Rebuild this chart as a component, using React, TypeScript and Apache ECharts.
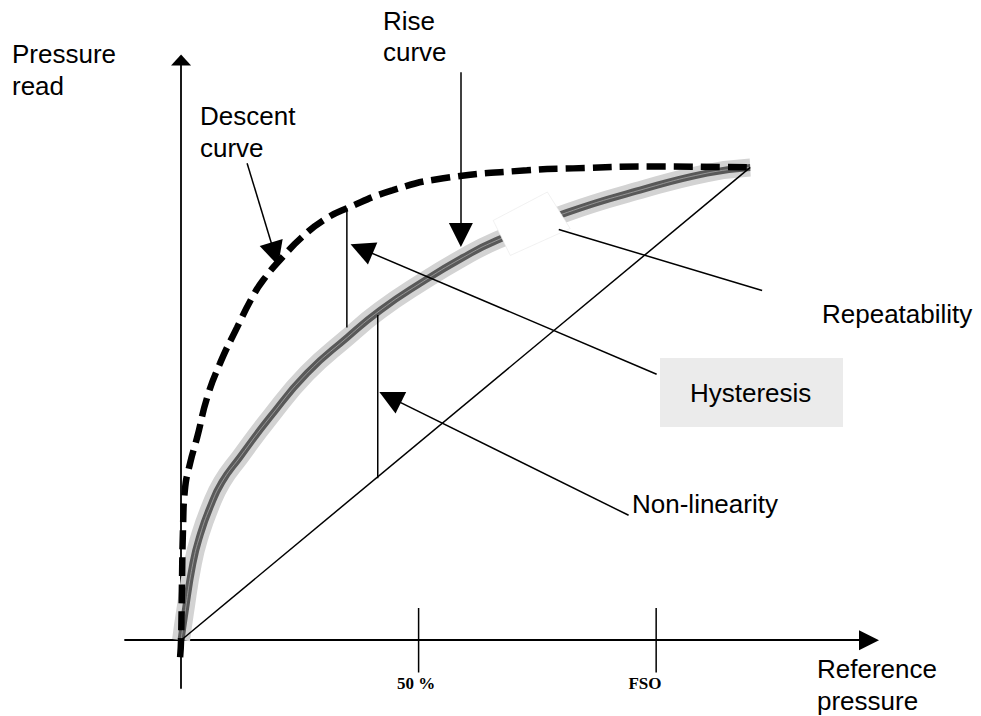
import React, { useEffect, useRef } from "react";
import * as echarts from "echarts";

// x: reference pressure in % of FSO, y: pressure read in % of full scale
const riseCurve: number[][] = [
  [0, 0], [0.8, 5.7], [2.5, 16.3], [4.0, 22.2], [6.1, 28.1], [8.6, 33.4],
  [12.4, 38.7], [18.7, 47.1], [26.5, 56.4], [35.0, 64.0], [41.9, 69.7],
  [50.3, 75.4], [59.4, 80.9], [66.5, 84.5], [81.3, 90.4], [96.6, 95.1],
  [110.7, 98.7], [119.8, 99.9],
];
const descentCurve: number[][] = [
  [-0.2, -3.6], [0, 0], [0.2, 12.7], [0.4, 23.2], [0.8, 31.7], [1.9, 37.4],
  [3.4, 42.9], [5.5, 51.3], [8.2, 58.5], [11.8, 66.1], [14.9, 72.3],
  [17.3, 76.1], [21.5, 81.1], [25.5, 85.2], [29.9, 88.7], [35.0, 91.3],
  [44.6, 95.1], [55.2, 97.6], [72.8, 99.3], [82.5, 99.7], [98.7, 100.1],
  [119.8, 99.9],
];
const linearLine: number[][] = [[0, 0], [119.8, 99.9]];
const hysteresisSegment: number[][] = [[34.9, 91.3], [34.9, 66.1]];
const nonLinearitySegment: number[][] = [[41.4, 68.7], [41.4, 34.2]];
const tickValues: number[] = [50, 100];
const tickLabels: string[] = ["50 %", "FSO"];
const tickHalfLength = 6.8;
const repeatabilityBox: number[][] = [[65.7, 88.7], [77.1, 94.7], [81.9, 87.0], [69.3, 81.3]];
const repeatabilityLine: number[][] = [[79.5, 86.8], [122.3, 73.9]];
// annotation arrows: [start, end]
const arrowDescent: number[][] = [[13.9, 100.8], [19.7, 81.6]];
const arrowRise: number[][] = [[58.9, 120.0], [58.9, 85.6]];
const arrowHysteresis: number[][] = [[100.1, 56.2], [38.0, 82.7]];
const arrowNonLinearity: number[][] = [[94.2, 26.4], [44.0, 51.3]];

const X_MIN = -11.8, X_MAX = 144.8, Y_MIN = -10.1, Y_MAX = 122.6;
const SANS = '"Liberation Sans", Arial, Helvetica, sans-serif';
const SERIF = '"Liberation Serif", "Times New Roman", serif';

export default function App() {
  const ref = useRef<HTMLDivElement>(null);
  useEffect(() => {
    if (!ref.current) return;
    const chart = echarts.init(ref.current, undefined, { renderer: "svg" });
    const txt = (text: string, x: number, y: number, extra: any = {}) => ({
      type: "text", x, y, z: 50,
      style: { text, fill: "#000", fontSize: 26, fontFamily: SANS, align: "left", verticalAlign: "middle", ...extra },
    });
    const black = { color: "#000", width: 1.5 };
    const ticks = tickValues.map((v) => ({
      type: "line", data: [[v, -tickHalfLength], [v, tickHalfLength]], symbol: "none",
      lineStyle: black, z: 4, silent: true,
    }));
    const arrows = [arrowDescent, arrowRise, arrowHysteresis, arrowNonLinearity].map((a) => ({ coords: a }));
    chart.setOption({
      animation: false,
      grid: { left: 125, right: 112, top: 60, bottom: 28 },
      xAxis: {
        type: "value", min: X_MIN, max: X_MAX, splitLine: { show: false },
        axisTick: { show: false }, axisLabel: { show: false },
        axisLine: { show: true, onZero: true, symbol: ["none", "triangle"], symbolSize: [20, 20], lineStyle: { color: "#000", width: 1.8 } },
      },
      yAxis: {
        type: "value", min: Y_MIN, max: Y_MAX, splitLine: { show: false },
        axisTick: { show: false }, axisLabel: { show: false },
        axisLine: { show: true, onZero: true, symbol: ["none", "triangle"], symbolSize: [20, 11], lineStyle: { color: "#000", width: 1.8 } },
      },
      series: [
        { type: "line", data: riseCurve, smooth: 0.5, symbol: "none", lineStyle: { color: "#d3d3d3", width: 18, cap: "butt" }, z: 2, silent: true },
        { type: "line", data: riseCurve, smooth: 0.5, symbol: "none", lineStyle: { color: "#595959", width: 7 }, z: 3, silent: true },
        { type: "line", data: riseCurve, smooth: 0.5, symbol: "none", lineStyle: { color: "#b0b0b0", width: 0.7 }, z: 3, silent: true },
        {
          type: "custom", data: [repeatabilityBox[0]], z: 4, silent: true,
          renderItem: (_p: any, api: any) => ({
            type: "polygon",
            shape: { points: repeatabilityBox.map((c) => api.coord(c)) },
            style: { fill: "#fff", stroke: "#e8e8e8", lineWidth: 0.6 },
          }),
        },
        { type: "line", data: descentCurve, smooth: 0.5, symbol: "none", lineStyle: { color: "#000", width: 6.5, type: [19, 8], cap: "butt" }, z: 5, silent: true },
        { type: "line", data: linearLine, symbol: "none", lineStyle: black, z: 4, silent: true },
        { type: "line", data: hysteresisSegment, symbol: "none", lineStyle: black, z: 4, silent: true },
        { type: "line", data: nonLinearitySegment, symbol: "none", lineStyle: black, z: 4, silent: true },
        { type: "line", data: repeatabilityLine, symbol: "none", lineStyle: black, z: 4, silent: true },
        ...ticks,
        {
          type: "lines", coordinateSystem: "cartesian2d", data: arrows, z: 6, silent: true,
          symbol: ["none", "triangle"], symbolSize: 24,
          lineStyle: { color: "#000", width: 1.5, opacity: 1, curveness: 0 },
        },
      ],
      graphic: [
        { type: "rect", z: 1, shape: { x: 660, y: 358, width: 183, height: 69 }, style: { fill: "#ebebeb" } },
        txt("Pressure", 12, 54),
        txt("read", 12, 86),
        txt("Descent", 200, 116),
        txt("curve", 200, 148),
        txt("Rise", 383, 21),
        txt("curve", 383, 52),
        txt("Repeatability", 822, 314),
        txt("Hysteresis", 690, 393),
        txt("Non-linearity", 632, 504),
        txt("Reference", 817, 669),
        txt("pressure", 817, 701),
        txt(tickLabels[0], 416, 683, { fontSize: 17, fontFamily: SERIF, fontWeight: "bold", align: "center" }),
        txt(tickLabels[1], 645, 683, { fontSize: 17, fontFamily: SERIF, fontWeight: "bold", align: "center" }),
      ],
    });
    return () => chart.dispose();
  }, []);
  return <div ref={ref} style={{ position: "absolute", left: 0, top: 0, width: 981, height: 716, background: "#fff" }} />;
}
